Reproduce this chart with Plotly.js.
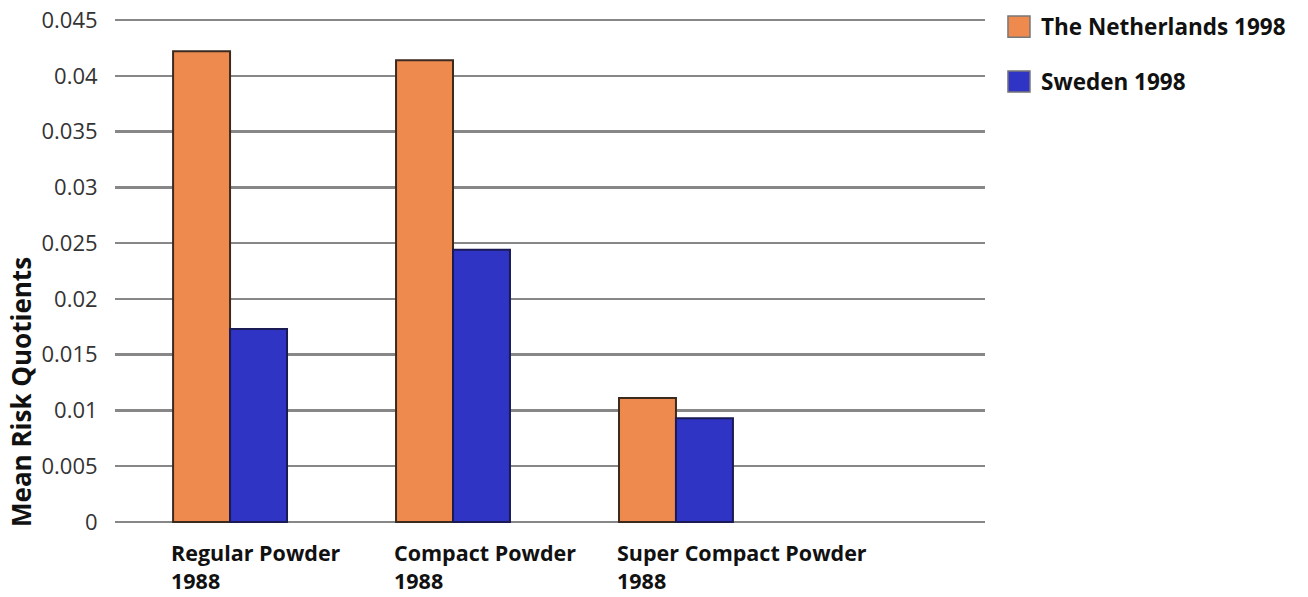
<!DOCTYPE html>
<html>
<head>
<meta charset="utf-8">
<script src="https://cdn.plot.ly/plotly-3.0.1.min.js"></script>
<style>html,body{margin:0;padding:0;background:#fff;}#chart{width:1308px;height:597px;}</style>
</head>
<body>
<div id="chart"></div>
<script>
const categories = ["Regular Powder<br>1988", "Compact Powder<br>1988", "Super Compact Powder<br>1988"];
const netherlands = [0.0422, 0.0414, 0.0111];
const sweden = [0.0173, 0.0244, 0.0093];
const seriesNames = ["The Netherlands 1998", "Sweden 1998"];
const yTickVals = [0, 0.005, 0.01, 0.015, 0.02, 0.025, 0.03, 0.035, 0.04, 0.045];
const yTickText = ["0", "0.005", "0.01", "0.015", "0.02", "0.025", "0.03", "0.035", "0.04", "0.045"];

const orange = "#EF8A4E";
const blue = "#3034C4";
const xIdx = categories.map((_, i) => i);

const traces = [
  {type: "bar", x: xIdx, y: netherlands, name: seriesNames[0], showlegend: false,
   marker: {color: orange, line: {color: "#3a2a20", width: 2}}},
  {type: "bar", x: xIdx, y: sweden, name: seriesNames[1], showlegend: false,
   marker: {color: blue, line: {color: "#1a1a55", width: 2}}}
];

const annotations = categories.map((c, i) => ({
  x: i - 0.274, y: 0, xref: "x", yref: "y", xanchor: "left", yanchor: "top",
  yshift: -14, text: c, showarrow: false, align: "left",
  font: {family: "Open Sans", size: 21.5, color: "#111", weight: "bold"}
}));
annotations.push({
  x: -0.108, y: 0.26, xref: "paper", yref: "paper", textangle: -90,
  text: "Mean Risk Quotients", showarrow: false, xanchor: "center", yanchor: "middle",
  font: {family: "Open Sans", size: 26, color: "#111", weight: "bold"}
});
const legendColors = [orange, blue];
const legendY = [0.985, 0.876];
const shapes = [];
seriesNames.forEach((n, i) => {
  shapes.push({type: "rect", xref: "paper", yref: "paper",
    x0: 1.0264, x1: 1.0517, y0: legendY[i] - 0.021, y1: legendY[i] + 0.021,
    fillcolor: legendColors[i], line: {color: "#777", width: 1.5}});
  annotations.push({x: 1.062, y: legendY[i], xref: "paper", yref: "paper",
    xanchor: "left", yanchor: "middle", text: n, showarrow: false,
    font: {family: "Open Sans", size: 22.5, color: "#111", weight: "bold"}});
});

const layout = {
  width: 1308, height: 597,
  margin: {l: 115, r: 323, t: 19, b: 74},
  paper_bgcolor: "#fff", plot_bgcolor: "#fff",
  barmode: "group", bargap: 0.489, bargroupgap: 0,
  xaxis: {range: [-0.516, 3.386], showticklabels: false, showgrid: false, zeroline: false, showline: false, ticks: ""},
  yaxis: {range: [-0.0001, 0.0451], tickvals: yTickVals, ticktext: yTickText,
    showgrid: true, gridcolor: "#878787", gridwidth: 2.5, zeroline: false, showline: false,
    ticks: "outside", ticklen: 12, tickcolor: "rgba(0,0,0,0)",
    tickfont: {family: "Open Sans", size: 22, color: "#333"}},
  shapes: shapes,
  annotations: annotations
};

Plotly.newPlot("chart", traces, layout, {displayModeBar: false, staticPlot: true});
</script>
</body>
</html>
